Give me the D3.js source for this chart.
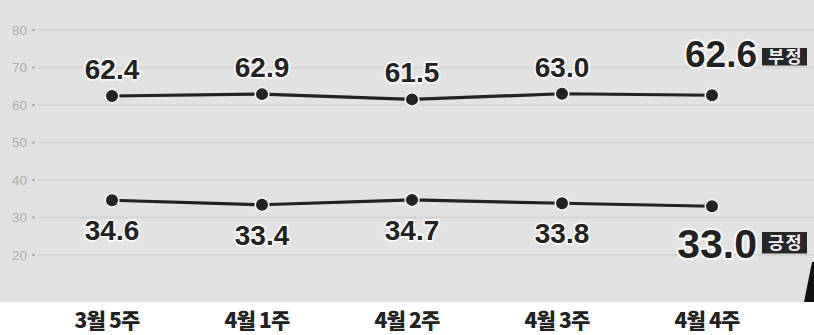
<!DOCTYPE html>
<html><head><meta charset="utf-8">
<script src="https://cdn.jsdelivr.net/npm/d3@7"></script>
<style>html,body{margin:0;padding:0;background:#fff;}svg{display:block;}</style>
</head><body>
<div id="chart"></div>
<script>
const categories = ["3월 5주", "4월 1주", "4월 2주", "4월 3주", "4월 4주"];
const negative = [62.4, 62.9, 61.5, 63.0, 62.6];
const positive = [34.6, 33.4, 34.7, 33.8, 33.0];
const yTicks = [20, 30, 40, 50, 60, 70, 80];
const seriesNames = ["부정", "긍정"];

const W = 814, H = 335;
const svg = d3.select("#chart").append("svg").attr("width", W).attr("height", H);

svg.append("rect").attr("x", 0).attr("y", 0).attr("width", W).attr("height", 302).attr("fill", "#e2e2e2");

const x = d3.scalePoint().domain(categories).range([112, 712]);
const y = d3.scaleLinear().domain([20, 80]).range([255, 30]);

// grid
const grid = svg.append("g");
yTicks.forEach(t => {
  grid.append("line").attr("x1", 38).attr("x2", W).attr("y1", y(t)).attr("y2", y(t))
    .attr("stroke", "#d5d5d5").attr("stroke-width", 2);
  grid.append("circle").attr("cx", 33.5).attr("cy", y(t)).attr("r", 1.3).attr("fill", "#a8a8a8");
  grid.append("text").attr("x", 27).attr("y", y(t) + 4.5).attr("text-anchor", "end")
    .attr("font-family", "Liberation Sans, Arial, sans-serif").attr("font-size", 13.5)
    .attr("fill", "#acacac").text(t);
});

// decoration bottom-right
svg.append("path").attr("d", "M812,262 L814,262 L814,302 L804,302 Z").attr("fill", "#111");

const line = d3.line().x((d, i) => x(categories[i])).y(d => y(d));

function drawSeries(vals, above, name) {
  svg.append("path").datum(vals).attr("d", line).attr("fill", "none")
    .attr("stroke", "#222").attr("stroke-width", 3.2);
  svg.selectAll(null).data(vals).enter().append("circle")
    .attr("cx", (d, i) => x(categories[i])).attr("cy", d => y(d)).attr("r", 6.8)
    .attr("fill", "#232323").attr("stroke", "#f4f4f4").attr("stroke-width", 1.6);
  const last = vals.length - 1;
  svg.selectAll(null).data(vals.slice(0, last)).enter().append("text")
    .attr("x", (d, i) => x(categories[i]))
    .attr("y", d => above ? y(d) - 17 : y(d) + 40)
    .attr("text-anchor", "middle")
    .attr("font-family", "Liberation Sans, Arial, sans-serif").attr("font-weight", "bold")
    .attr("font-size", 28).attr("fill", "#222")
    .attr("stroke", "#fafafa").attr("stroke-width", 3.5).attr("paint-order", "stroke")
    .attr("stroke-linejoin", "round")
    .text(d => d.toFixed(1));
  const fs = above ? 37 : 41;
  const by = above ? 67 : 258;
  svg.append("text").attr("x", 757).attr("y", by).attr("text-anchor", "end")
    .attr("font-family", "Liberation Sans, Arial, sans-serif").attr("font-weight", "bold")
    .attr("font-size", fs).attr("fill", "#222")
    .attr("stroke", "#fafafa").attr("stroke-width", 4).attr("paint-order", "stroke")
    .attr("stroke-linejoin", "round")
    .text(vals[last].toFixed(1));
  const bx = 762, bw = 45;
  const bTop = above ? 48 : 232, bh = above ? 17.5 : 21.5;
  svg.append("rect").attr("x", bx).attr("y", bTop).attr("width", bw).attr("height", bh).attr("fill", "#262626");
  svg.append("text").attr("x", bx + bw / 2 + 1).attr("y", bTop + bh / 2 + 6).attr("text-anchor", "middle")
    .attr("font-family", "Noto Sans CJK KR, sans-serif").attr("font-weight", "bold")
    .attr("font-size", 17.5).attr("letter-spacing", 1.5).attr("fill", "#f2f2f2").text(name);
}
drawSeries(negative, true, seriesNames[0]);
drawSeries(positive, false, seriesNames[1]);

// x-axis labels
svg.selectAll(null).data(categories).enter().append("text")
  .attr("x", d => x(d) - 5).attr("y", 328).attr("text-anchor", "middle")
  .attr("font-family", "Noto Sans CJK KR, sans-serif").attr("font-weight", "900")
  .attr("font-size", 21).attr("fill", "#222").attr("letter-spacing", -0.8)
  .text(d => d);
</script>
</body></html>
